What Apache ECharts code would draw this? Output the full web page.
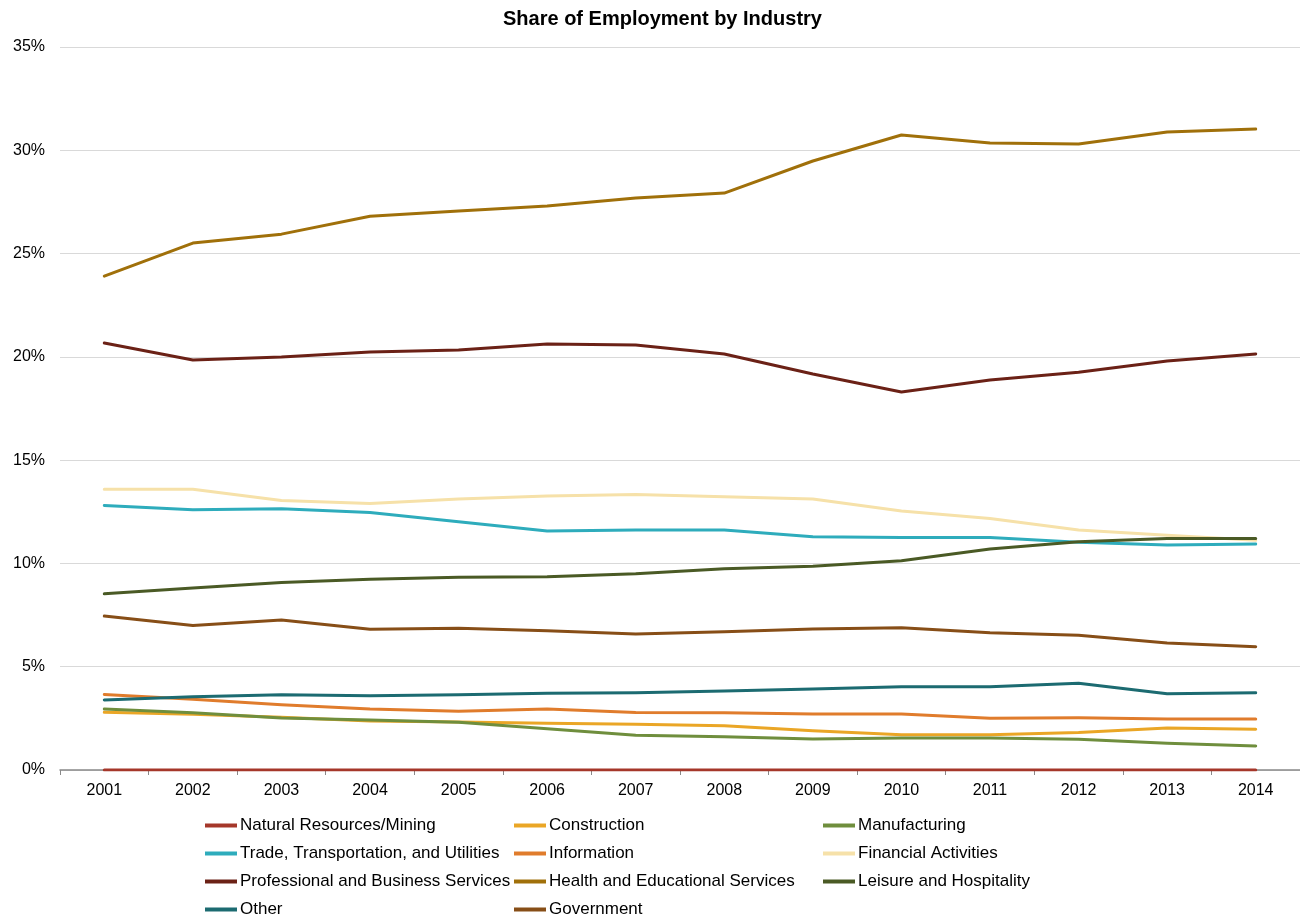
<!DOCTYPE html>
<html>
<head>
<meta charset="utf-8">
<title>Share of Employment by Industry</title>
<script src="https://cdn.jsdelivr.net/npm/echarts@6/dist/echarts.min.js"></script>
<style>
  html, body { margin: 0; padding: 0; background: #ffffff; }
  #chart { width: 1300px; height: 920px; }
</style>
</head>
<body>
<div id="chart"></div>
<script>
// Share of total employment (%) by industry, 2001-2014
const years = ['2001', '2002', '2003', '2004', '2005', '2006', '2007', '2008', '2009', '2010', '2011', '2012', '2013', '2014'];

const naturalResources = [0, 0, 0, 0, 0, 0, 0, 0, 0, 0, 0, 0, 0, 0];
const construction     = [2.79, 2.70, 2.55, 2.37, 2.32, 2.26, 2.22, 2.14, 1.90, 1.71, 1.71, 1.81, 2.03, 1.97];
const manufacturing    = [2.95, 2.77, 2.52, 2.42, 2.31, 2.00, 1.68, 1.61, 1.50, 1.55, 1.55, 1.49, 1.29, 1.16];
const tradeTransport   = [12.81, 12.60, 12.65, 12.46, 12.02, 11.57, 11.62, 11.62, 11.29, 11.26, 11.26, 11.02, 10.89, 10.94];
const information      = [3.66, 3.43, 3.16, 2.95, 2.84, 2.95, 2.78, 2.77, 2.71, 2.71, 2.50, 2.53, 2.47, 2.47];
const financial        = [13.59, 13.59, 13.05, 12.90, 13.12, 13.26, 13.34, 13.23, 13.12, 12.54, 12.18, 11.62, 11.37, 11.12];
const professional     = [20.67, 19.85, 19.99, 20.23, 20.33, 20.62, 20.57, 20.14, 19.17, 18.30, 18.88, 19.26, 19.80, 20.14];
const healthEducation  = [23.91, 25.51, 25.94, 26.81, 27.06, 27.30, 27.69, 27.93, 29.48, 30.74, 30.35, 30.30, 30.88, 31.03];
const leisure          = [8.53, 8.81, 9.08, 9.24, 9.33, 9.36, 9.50, 9.74, 9.86, 10.13, 10.70, 11.05, 11.21, 11.21];
const other            = [3.39, 3.55, 3.64, 3.60, 3.64, 3.71, 3.74, 3.82, 3.92, 4.03, 4.03, 4.20, 3.69, 3.74];
const government       = [7.45, 7.00, 7.26, 6.81, 6.86, 6.74, 6.58, 6.69, 6.83, 6.89, 6.65, 6.52, 6.15, 5.97];

const yTicks = [0, 5, 10, 15, 20, 25, 30, 35];

const seriesDefs = [
  { name: 'Natural Resources/Mining', data: naturalResources, color: '#a5372a' },
  { name: 'Construction', data: construction, color: '#eaa626' },
  { name: 'Manufacturing', data: manufacturing, color: '#6f8e3d' },
  { name: 'Trade, Transportation, and Utilities', data: tradeTransport, color: '#2eacbc' },
  { name: 'Information', data: information, color: '#e07c2c' },
  { name: 'Financial Activities', data: financial, color: '#f6e1a9' },
  { name: 'Professional and Business Services', data: professional, color: '#6b2116' },
  { name: 'Health and Educational Services', data: healthEducation, color: '#a0700a' },
  { name: 'Leisure and Hospitality', data: leisure, color: '#4a5a25' },
  { name: 'Other', data: other, color: '#1c6b71' },
  { name: 'Government', data: government, color: '#874e17' }
];

const FONT = '"Liberation Sans", Arial, sans-serif';

const legendBase = {
  orient: 'vertical',
  top: 817,
  icon: 'rect',
  itemWidth: 32,
  itemHeight: 4,
  itemGap: 11,
  padding: 0,
  textStyle: { fontFamily: FONT, fontSize: 17, color: '#000', lineHeight: 17, padding: [0, 0, 0, -2] }
};

const names = seriesDefs.map(s => s.name);

const chart = echarts.init(document.getElementById('chart'), null, { renderer: 'canvas' });

chart.setOption({
  backgroundColor: '#ffffff',
  animation: false,
  title: {
    text: 'Share of Employment by Industry',
    left: 503,
    top: 9,
    padding: 0,
    textStyle: { fontFamily: FONT, fontSize: 20, fontWeight: 'bold', color: '#000' }
  },
  legend: [
    Object.assign({}, legendBase, { left: 205, data: [names[0], names[3], names[6], names[9]] }),
    Object.assign({}, legendBase, { left: 514, data: [names[1], names[4], names[7], names[10]] }),
    Object.assign({}, legendBase, { left: 823, data: [names[2], names[5], names[8]] })
  ],
  grid: { left: 60, top: 47, width: 1253, height: 723, containLabel: false },
  xAxis: {
    type: 'category',
    data: years,
    boundaryGap: true,
    axisLine: { lineStyle: { color: '#898989', width: 1.5 } },
    axisTick: { show: true, length: 5, lineStyle: { color: '#898989' } },
    axisLabel: { fontFamily: FONT, fontSize: 16, color: '#000', margin: 13 },
    splitLine: { show: false }
  },
  yAxis: {
    type: 'value',
    min: yTicks[0],
    max: yTicks[yTicks.length - 1],
    interval: yTicks[1] - yTicks[0],
    axisLine: { show: false },
    axisTick: { show: false },
    axisLabel: { fontFamily: FONT, fontSize: 16, color: '#000', margin: 15, formatter: '{value}%' },
    splitLine: { lineStyle: { color: '#d9d9d9', width: 1 } }
  },
  series: seriesDefs.map(s => ({
    name: s.name,
    type: 'line',
    data: s.data,
    color: s.color,
    showSymbol: false,
    symbol: 'none',
    lineStyle: { width: 3, color: s.color, cap: 'round', join: 'round' },
    emphasis: { disabled: true }
  }))
});
</script>
</body>
</html>
